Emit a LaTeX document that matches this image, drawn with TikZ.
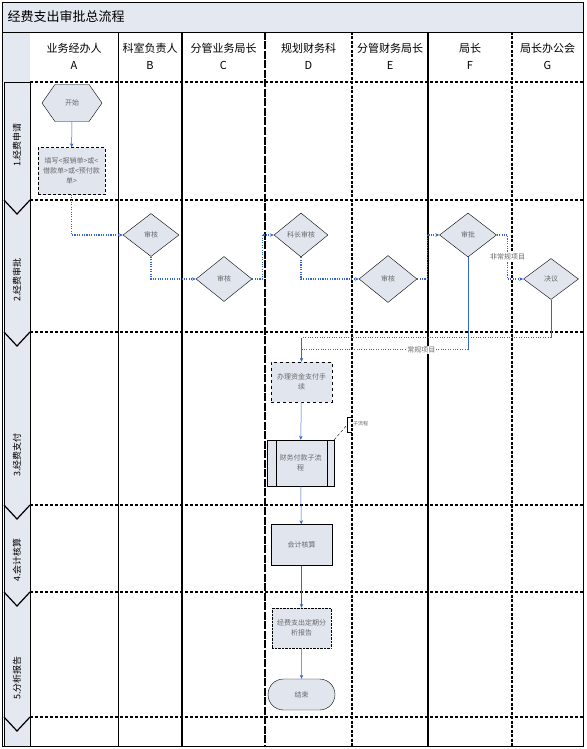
\documentclass[tikz,border=0pt]{standalone}
\usepackage{fontspec}
\newfontfamily\cjk{Noto Sans CJK SC}
\usetikzlibrary{positioning, arrows.meta, shapes.geometric, shapes.misc, shapes.symbols, calc}
\definecolor{flowblue}{RGB}{51,102,204}
\definecolor{shapefill}{RGB}{224,229,238}
\definecolor{bandfill}{RGB}{228,232,240}
\definecolor{txtgray}{RGB}{105,105,105}

\begin{document}
\begin{tikzpicture}[x=1pt, y=-1pt, >=Stealth,
  every node/.style={font=\cjk},
  lbl/.style={font=\cjk\fontsize{7}{10}\selectfont, text=txtgray, align=center, inner sep=1pt},
  decision/.style={diamond, draw, fill=shapefill, minimum width=56pt, minimum height=43pt, inner sep=0, lbl},
  task/.style={rectangle, draw, fill=shapefill, minimum width=61pt, minimum height=40pt, lbl},
  link/.style={flowblue, line width=1.1pt, dash pattern=on 1.1pt off 1.3pt},
  seq/.style={flowblue, line width=0.5pt},
  tip/.style={-{Stealth[length=4pt, width=3.5pt]}},
  tag/.style={fill=white, lbl, inner sep=1pt},
  phase/.style={very thick, dash pattern=on 3pt off 2pt}]
  \useasboundingbox (0,0) rectangle (586,749);
  % frame and title
  \fill[bandfill] (2,2) rectangle (583,32);
  \fill[bandfill] (2,32) rectangle (30,82);
  \node[anchor=west, font=\cjk\fontsize{13}{13}\selectfont] (title) at (4,17) {经费支出审批总流程};
  % lanes
  \foreach \x/\name/\l in {74/业务经办人/A, 150/科室负责人/B, 223.5/分管业务局长/C, 308.5/规划财务科/D,
                           390/分管财务局长/E, 470/局长/F, 547.5/局长办公会/G}{
    \node[align=center, font=\cjk\fontsize{11}{17}\selectfont] (H\l) at (\x,56) {\name\\\l};
  }
  \draw[thin] (118,32) -- (118,746);
  \draw[very thick] (182,32) -- (182,746);
  \draw[very thick, dash pattern=on 8pt off 1.5pt] (265,32) -- (265,746);
  \draw[very thick, dash pattern=on 3pt off 1.5pt] (352,32) -- (352,746);
  \draw[very thick] (428,32) -- (428,746);
  \draw[very thick, dash pattern=on 3pt off 1.5pt] (512,32) -- (512,746);
  \foreach \y in {82,200,332,505,592,717}{ \draw[phase] (30,\y) -- (583,\y); }
  % phase band
  \fill[bandfill] (4,82) rectangle (30,746);
  \draw (4,82) rectangle (30,746);
  \foreach \y in {200,332,505,592,717}{ \draw[very thick] (4,\y) -- (17,\y+14) -- (30,\y); }
  \foreach \y/\t [count=\i] in {145/经费申请, 280/经费审批, 455/经费支付, 560/会计核算, 678/分析报告}{
    \node[rotate=90, font=\cjk\fontsize{9}{9}\selectfont] (P\i) at (17,\y) {\i.\t};
  }
  \draw[thick] (2,2) rectangle (583,746);
  \draw (2,32) -- (583,32);
  % nodes
  \node[signal, signal to=east and west, signal pointer angle=110, draw, fill=shapefill,
        minimum width=60pt, minimum height=37pt, lbl] (start) at (72,103) {开始};
  \node[task, densely dashed, minimum width=67pt, minimum height=47pt] (fill) at (71.5,171)
       {填写<报销单>或<\\借款单>或<预付款\\单>};
  \node[decision] (chkB) at (151,235) {审核};
  \node[decision, minimum height=45pt] (chkC) at (224,279) {审核};
  \node[decision, minimum width=54pt, minimum height=44pt] (chkD) at (301,235) {科长审核};
  \node[decision, minimum width=58pt, minimum height=47pt] (chkE) at (388,279) {审核};
  \node[decision, minimum width=57pt, minimum height=44pt] (apprF) at (468,235) {审批};
  \node[decision, minimum width=55pt, minimum height=41pt] (decG) at (551,279) {决议};
  \node[task, dashed] (pay) at (301.5,382) {办理资金支付手\\续};
  \node[task, minimum width=67pt, minimum height=46pt] (sub) at (300.5,463) {财务付款子流\\程};
  \draw ($(sub.north west)+(9,0)$) -- ($(sub.south west)+(9,0)$);
  \draw ($(sub.north east)+(-7,0)$) -- ($(sub.south east)+(-7,0)$);
  \node[task, minimum height=41pt] (acct) at (301.5,545) {会计核算};
  \node[task, densely dotted, minimum width=59pt] (report) at (301.5,628) {经费支出定期分\\析报告};
  \node[rounded rectangle, draw, fill=shapefill, minimum width=69pt, minimum height=31pt, lbl] (end) at (301.5,694.5) {结束};
  % note on the sub process
  \node[lbl, anchor=west, font=\cjk\fontsize{5}{6}\selectfont] (note) at (352,424) {子流程};
  \draw (note.west) ++(0,-7) -- ++(-5,0) -- ++(0,15) -- ++(5,0);
  \draw[densely dashed] (sub.north east) -- ($(note.west)+(-5,1)$);
  % connectors
  \draw[seq, tip] (start) -- (fill);
  \draw[link, tip] (fill.south) |- (chkB.west);
  \draw[link, tip] (chkB.south) |- (chkC.west);
  \draw[link, tip] (chkC.east) -- ++(10,0) |- (chkD.west);
  \draw[link, tip] (chkD.south) |- (chkE.west);
  \draw[link, tip] (chkE.east) -- ++(10,0) |- (apprF.west);
  \draw[link, tip] (apprF.east) -- ++(11,0) |- node[pos=0.25, tag] {非常规项目} (decG.west);
  \coordinate (merge) at ($(pay.north)+(0,-24)$);
  \coordinate (merge2) at ($(pay.north)+(0,-12)$);
  \draw[seq] (apprF.south) -- (apprF.south |- merge2);
  \draw[link] (apprF.south |- merge2) -- node[pos=0.28, tag] {常规项目} (merge2);
  \draw[seq] (decG.south) -- (decG.south |- merge);
  \draw[link] (decG.south |- merge) -- (merge);
  \draw[seq, tip] (merge) -- (pay.north);
  \draw[seq, tip] (pay) -- (sub);
  \draw[seq, tip] (sub) -- (acct);
  \draw[seq, tip] (acct) -- (report);
  \draw[seq, tip] (report) -- (end);
\end{tikzpicture}
\end{document}
